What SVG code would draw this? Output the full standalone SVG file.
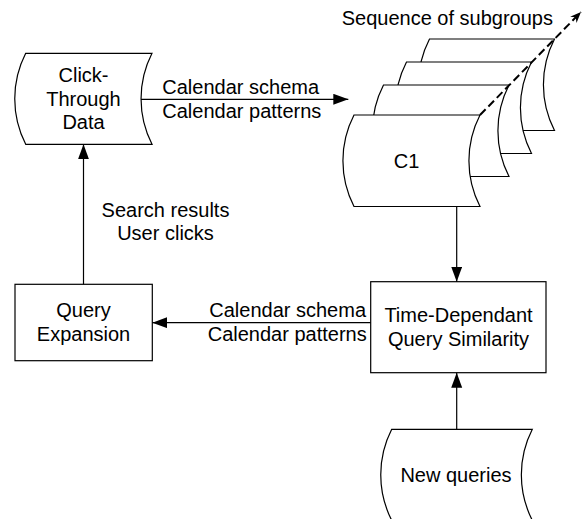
<svg xmlns="http://www.w3.org/2000/svg" width="587" height="519" viewBox="0 0 587 519">
<defs>
<style>
.shape{fill:#fff;stroke:#000;stroke-width:1.2}
.conn{fill:none;stroke:#000;stroke-width:1.2}
.dash{fill:none;stroke:#000;stroke-width:2;stroke-dasharray:8 4}
text{font-family:"Liberation Sans",Arial,sans-serif;font-size:20px;fill:#000}
.c{text-anchor:middle}
.e{text-anchor:end}
</style>
<marker id="arr" markerUnits="userSpaceOnUse" markerWidth="16" markerHeight="12" refX="15" refY="5.5" orient="auto">
<path d="M0,0 L15,5.5 L0,11 Z" fill="#000"/>
</marker>
<marker id="arrs" markerUnits="userSpaceOnUse" markerWidth="12" markerHeight="10" refX="11" refY="4.5" orient="auto">
<path d="M0,0 L11,4.5 L0,9 L3.5,4.5 Z" fill="#000"/>
</marker>
</defs>
<rect width="587" height="519" fill="#fff"/>

<g id="clickthrough">
<path class="shape" d="M25.7,53.3 H152 A100,100 0 0 0 152,144.3 H25.7 A100,100 0 0 1 25.7,53.3 Z"/>
<text class="c" x="83.5" y="82">Click-</text>
<text class="c" x="83.5" y="105.5">Through</text>
<text class="c" x="83.5" y="129">Data</text>
</g>

<g id="subgroups">
<path class="shape" d="M429.5,39 H554.5 A100,100 0 0 0 554.5,130.5 H429.5 A100,100 0 0 1 429.5,39 Z"/>
<path class="shape" d="M406.5,62 H531.5 A100,100 0 0 0 531.5,153.5 H406.5 A100,100 0 0 1 406.5,62 Z"/>
<path class="shape" d="M383.5,85 H509 A100,100 0 0 0 509,176.5 H383.5 A100,100 0 0 1 383.5,85 Z"/>
<text x="341.7" y="24.5">Sequence of subgroups</text>
</g>

<g id="c1">
<path class="shape" d="M354,115 H480 A100,100 0 0 0 480,206.5 H354 A100,100 0 0 1 354,115 Z"/>
<text class="c" x="406.5" y="168">C1</text>
</g>

<g id="query-expansion">
<rect class="shape" x="15" y="284.3" width="137.3" height="76.4"/>
<text class="c" x="83.5" y="317.3">Query</text>
<text class="c" x="83.5" y="341">Expansion</text>
</g>

<g id="time-dependant">
<rect class="shape" x="370.7" y="281.7" width="175.3" height="91"/>
<text class="c" x="458.5" y="321.7">Time-Dependant</text>
<text class="c" x="458.5" y="346">Query Similarity</text>
</g>

<g id="new-queries">
<path class="shape" d="M391.7,429.3 H532.3 A100,100 0 0 0 532.3,520.3 H391.7 A100,100 0 0 1 391.7,429.3 Z"/>
<text class="c" x="456" y="481.7">New queries</text>
</g>

<g id="connectors">
<path class="conn" d="M141,99.3 H348.3" marker-end="url(#arr)"/>
<path class="conn" d="M83.5,284.3 V144.3" marker-end="url(#arr)"/>
<path class="conn" d="M456.7,206.5 V281.7" marker-end="url(#arr)"/>
<path class="conn" d="M370.7,322.7 H152.3" marker-end="url(#arr)"/>
<path class="conn" d="M456.7,429.3 V372.7" marker-end="url(#arr)"/>
<path class="dash" d="M480,115 L581,12" marker-end="url(#arrs)"/>
<text x="162.3" y="94.3">Calendar schema</text>
<text x="162.3" y="118.3">Calendar patterns</text>
<text class="c" x="165.5" y="216.7">Search results</text>
<text class="c" x="165.5" y="240">User clicks</text>
<text class="e" x="366" y="317.3">Calendar schema</text>
<text class="e" x="366.7" y="341">Calendar patterns</text>
</g>
</svg>
